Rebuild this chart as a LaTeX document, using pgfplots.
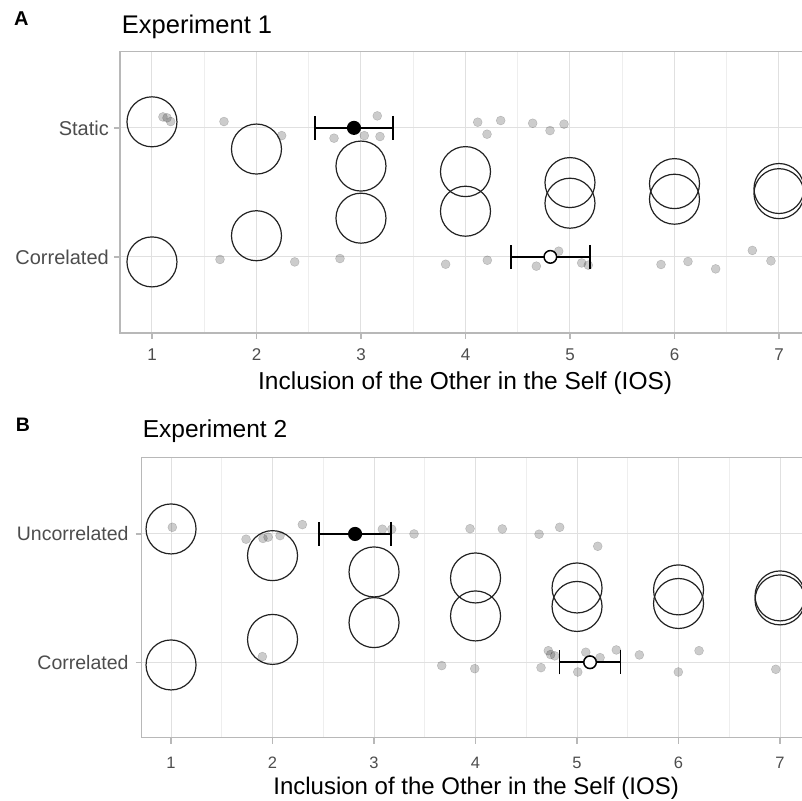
\documentclass[border=0pt]{standalone}
\usepackage{fontspec}
\setmainfont{Liberation Sans}
\usepackage{pgfplots}
\pgfplotsset{compat=1.18}
\definecolor{tickgray}{HTML}{4D4D4D}
\definecolor{bordergray}{HTML}{B8B8B8}
\definecolor{gridmaj}{HTML}{E0E0E0}
\definecolor{gridmin}{HTML}{EEEEEE}
\definecolor{circ}{HTML}{222222}

\pgfplotsset{
 iosaxis/.style={
  scale only axis, anchor=south west,
  ymin=0.41, ymax=2.59, xmax=7.3,
  xtick={1,...,7}, xticklabels={1,2,3,4,5,6,7},
  minor xtick={1.5,2.5,3.5,4.5,5.5,6.5},
  ytick={1,2},
  xmajorgrids, xminorgrids, ymajorgrids,
  major grid style={gridmaj, line width=1bp},
  minor grid style={gridmin, line width=0.7bp},
  axis line style={bordergray, line width=1.3bp},
  tick pos=left, tick align=outside,
  major tick length=6bp, minor tick length=0pt,
  major tick style={bordergray, line width=1.3bp},
  clip=false,
  xlabel={Inclusion of the Other in the Self (IOS)},
  xlabel style={at={(axis description cs:0.5,0)}, anchor=base, yshift=-56.3bp, inner sep=0pt},
  xticklabel style={tickgray, anchor=base, inner sep=0pt},
  yticklabel style={tickgray, anchor=east, inner sep=0pt},
 },
 graypts/.style={only marks, mark=*, mark size=4.5bp, mark options={draw=none, fill=black, opacity=0.2}},
 ios/.style={only marks, mark=o, mark size=25bp, mark options={draw=circ, line width=1.2bp}},
 ebar/.style={draw=none, mark=none, error bars/.cd, x dir=both, x explicit,
   error bar style={draw=black, line width=1.8bp},
   error mark options={draw=black, line width=1.8bp, mark size=12bp, rotate=90}},
}

\begin{document}
\begin{tikzpicture}[x=1bp,y=1bp]
\coordinate (pA) at (120,468);
\coordinate (pB) at (141.7,63.3);
% ---------------- Panel A ----------------
\node[anchor=base west, inner sep=0pt, font=\fontsize{20bp}{24bp}\selectfont\bfseries] at (14,775) {A};
\node[anchor=base west, inner sep=0pt, font=\fontsize{25.5bp}{30bp}\selectfont] at (121.7,767.7) {Experiment 1};
\begin{axis}[iosaxis, at={(pA)}, x=104.5bp, y=129bp, xmin=0.694,
  yticklabels={Correlated,Static},
  xlabel style={font=\fontsize{24.5bp}{28bp}\selectfont},
  xticklabel style={font=\fontsize{17bp}{20bp}\selectfont, yshift=-21.5bp},
  yticklabel style={font=\fontsize{20bp}{24bp}\selectfont, xshift=-5bp}]
\addplot[graypts] coordinates {
 (1.105,2.085) (1.144,2.078) (1.179,2.049) (1.689,2.049) (2.241,1.94) (2.742,1.92)
 (3.032,1.94) (3.156,2.093) (3.182,1.933) (4.117,2.044) (4.206,1.951) (4.337,2.057)
 (4.643,2.036) (4.809,1.979) (4.943,2.029)};
\addplot[graypts] coordinates {
 (1.651,0.98) (2.366,0.961) (2.799,0.987) (3.81,0.943) (4.209,0.974) (4.678,0.928)
 (4.892,1.044) (5.112,0.953) (5.175,0.936) (5.871,0.941) (6.129,0.964) (6.394,0.907)
 (6.745,1.05) (6.923,0.969)};
\addplot[ios] coordinates {
 (1,2.047) (1,0.961) (2,1.836) (2,1.164) (3,1.704) (3,1.30) (4,1.661) (4,1.354)
 (5,1.576) (5,1.416) (6,1.568) (6,1.447) (7,1.53) (7,1.49)};
\addplot[ebar] coordinates {(2.933,2) +- (0.37,0)};
\addplot[ebar] coordinates {(4.812,1) +- (0.379,0)};
\addplot[only marks, mark=*, mark size=6.3bp, mark options={draw=black, fill=black, line width=1.5bp}] coordinates {(2.933,2)};
\addplot[only marks, mark=*, mark size=6.3bp, mark options={draw=black, fill=white, line width=1.5bp}] coordinates {(4.812,1)};
\end{axis}
% ---------------- Panel B ----------------
\node[anchor=base west, inner sep=0pt, font=\fontsize{19.5bp}{24bp}\selectfont\bfseries] at (15.7,369) {B};
\node[anchor=base west, inner sep=0pt, font=\fontsize{24.5bp}{30bp}\selectfont] at (142.7,363.7) {Experiment 2};
\begin{axis}[iosaxis, at={(pB)}, x=101.5bp, y=128.3bp, xmin=0.711, ymin=0.412, ymax=2.595,
  yticklabels={Correlated,Uncorrelated},
  xlabel style={font=\fontsize{24bp}{28bp}\selectfont},
  xticklabel style={font=\fontsize{16.5bp}{20bp}\selectfont, yshift=-24.3bp},
  yticklabel style={font=\fontsize{19.5bp}{24bp}\selectfont, xshift=-7bp}]
\addplot[graypts] coordinates {
 (1.013,2.052) (1.739,1.959) (1.906,1.965) (1.956,1.975) (2.074,1.987) (2.294,2.073)
 (3.082,2.037) (3.174,2.037) (3.394,2.0) (3.946,2.041) (4.264,2.039) (4.626,1.998)
 (4.829,2.052) (5.204,1.904)};
\addplot[graypts] coordinates {
 (1.9,1.044) (3.667,0.974) (3.992,0.95) (4.645,0.958) (4.717,1.09) (4.74,1.06)
 (4.78,1.05) (5.007,0.924) (5.086,1.078) (5.227,1.036) (5.387,1.096) (5.614,1.057)
 (5.998,0.924) (6.202,1.09) (6.958,0.945)};
\addplot[ios] coordinates {
 (1,2.039) (1,0.979) (2,1.831) (2,1.178) (3,1.704) (3,1.309) (4,1.657) (4,1.361)
 (5,1.579) (5,1.435) (6,1.564) (6,1.458) (7,1.517) (7,1.486)};
\addplot[ebar] coordinates {(2.813,2) +- (0.353,0)};
\addplot[ebar] coordinates {(5.128,1) +- (0.30,0)};
\addplot[only marks, mark=*, mark size=6.3bp, mark options={draw=black, fill=black, line width=1.5bp}] coordinates {(2.813,2)};
\addplot[only marks, mark=*, mark size=6.3bp, mark options={draw=black, fill=white, line width=1.5bp}] coordinates {(5.128,1)};
\end{axis}
\pgfresetboundingbox
\path[use as bounding box] (0,0) rectangle (802,801);
\end{tikzpicture}
\end{document}
